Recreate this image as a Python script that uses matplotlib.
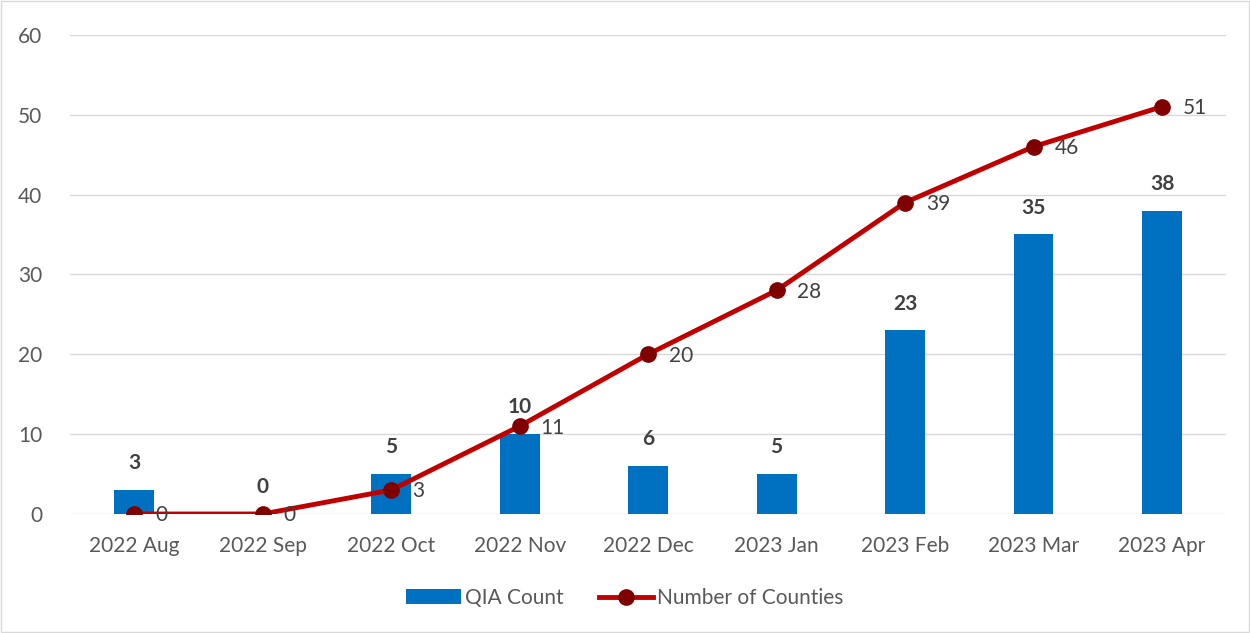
import matplotlib.pyplot as plt

months = ["2022 Aug", "2022 Sep", "2022 Oct", "2022 Nov", "2022 Dec",
          "2023 Jan", "2023 Feb", "2023 Mar", "2023 Apr"]
qia_count = [3, 0, 5, 10, 6, 5, 23, 35, 38]
counties = [0, 0, 3, 11, 20, 28, 39, 46, 51]

plt.rcParams["font.family"] = ["Lato", "DejaVu Sans"]

fig = plt.figure(figsize=(12.5, 6.33), dpi=100)
ax = fig.add_axes([0.056, 0.188, 0.925, 0.757])

x = list(range(len(months)))
bars = ax.bar(x, qia_count, width=0.31, color="#0070C0", label="QIA Count",
              zorder=2)
line, = ax.plot(x, counties, color="#C00000", linewidth=3.5, marker="o",
                markersize=11, markerfacecolor="#7F0000",
                markeredgecolor="#7F0000", label="Number of Counties",
                zorder=3)

for xi, v in zip(x, qia_count):
    ax.annotate(str(v), (xi, v), xytext=(0, 12), textcoords="offset points",
                ha="center", va="bottom", fontsize=15, fontweight="bold",
                color="#404040")
for xi, v in zip(x, counties):
    ax.annotate(str(v), (xi, v), xytext=(15, -1), textcoords="offset points",
                ha="left", va="center", fontsize=15, color="#404040")

ax.set_xlim(-0.5, 8.5)
ax.set_ylim(0, 60)
ax.set_yticks(range(0, 61, 10))
ax.set_xticks(x)
ax.set_xticklabels(months)
ax.tick_params(axis="both", length=0, labelsize=15, labelcolor="#595959")
ax.tick_params(axis="x", pad=16)
ax.tick_params(axis="y", pad=20)
ax.grid(axis="y", color="#D9D9D9", linewidth=1, zorder=0)
ax.set_axisbelow(True)
for s in ax.spines.values():
    s.set_visible(False)

leg = fig.legend([bars, line], ["QIA Count", "Number of Counties"],
                 loc="lower center", bbox_to_anchor=(0.5, 0.01), ncol=2,
                 frameon=False, fontsize=15, handlelength=2.6,
                 columnspacing=1.7, handletextpad=0.2)
for t in leg.get_texts():
    t.set_color("#595959")

fig.patches.append(plt.Rectangle((0.001, 0.001), 0.998, 0.998,
                                 transform=fig.transFigure, fill=False,
                                 edgecolor="#D9D9D9", linewidth=1))

fig.savefig("out.png", dpi=100)
